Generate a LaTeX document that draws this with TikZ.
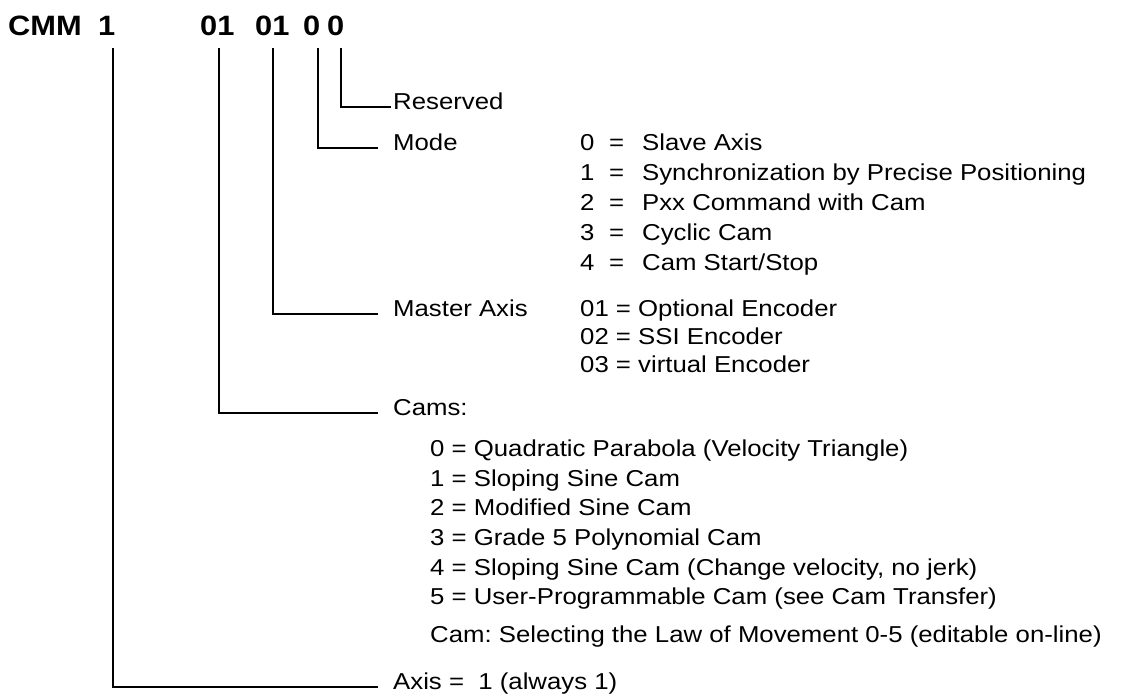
\documentclass[tikz,border=0pt]{standalone}
\usepackage{fontspec}
\setmainfont{Liberation Sans}
\newfontfamily\bodyface[FakeStretch=1.12]{Liberation Sans}
\newfontfamily\headface[FakeStretch=1.1]{Liberation Sans}
\frenchspacing
\begin{document}
\begin{tikzpicture}[x=1pt,y=-1pt,
  hdr/.style={anchor=base west, inner sep=0pt, font=\headface\bfseries\fontsize{28}{30}\selectfont},
  lbl/.style={anchor=mid west, inner ysep=0pt, inner xsep=15pt, font=\bodyface\fontsize{23}{28}\selectfont},
  item/.style={anchor=mid west, inner sep=0pt, font=\bodyface\fontsize{23}{28}\selectfont},
  link/.style={line width=1.8pt}]
\useasboundingbox (0,0) rectangle (1124,699);

% type code
\node[hdr] (hC) at (8,35) {CMM};
\node[hdr] (hA) at (98,35) {1};
\node[hdr] (hB) at (200,35) {01};
\node[hdr] (hM) at (255,35) {01};
\node[hdr] (hO) at (303,35) {0};
\node[hdr] (hR) at (327,35) {0};

% tops of the leader lines
\coordinate (tA) at (113,48);
\coordinate (tB) at (219,48);
\coordinate (tM) at (273,48);
\coordinate (tO) at (318,48);
\coordinate (tR) at (341,48);

% field names
\node[lbl, inner xsep=2pt] (reserved) at (391,107) {Reserved};
\node[lbl] (mode)   at (378,148) {Mode};
\node[lbl] (master) at (378,314) {Master Axis};
\node[lbl] (cams)   at (378,413) {Cams:};
\node[lbl] (axis)   at (378,687) {Axis =\ \ 1 (always 1)};

% leaders
\draw[link] (tR) |- (reserved.mid west);
\draw[link] (tO) |- (mode.mid west);
\draw[link] (tM) |- (master.mid west);
\draw[link] (tB) |- (cams.mid west);
\draw[link] (tA) |- (axis.mid west);

% mode values
\node[item] (m0) at (580,148) {\makebox[29pt][l]{0}\makebox[33pt][l]{=}Slave Axis};
\node[item] (m1) at (580,178) {\makebox[29pt][l]{1}\makebox[33pt][l]{=}Synchronization by Precise Positioning};
\node[item] (m2) at (580,208) {\makebox[29pt][l]{2}\makebox[33pt][l]{=}Pxx Command with Cam};
\node[item] (m3) at (580,238) {\makebox[29pt][l]{3}\makebox[33pt][l]{=}Cyclic Cam};
\node[item] (m4) at (580,268) {\makebox[29pt][l]{4}\makebox[33pt][l]{=}Cam Start/Stop};

% master axis values
\node[item] (e1) at (580,314) {01 = Optional Encoder};
\node[item] (e2) at (580,342) {02 = SSI Encoder};
\node[item] (e3) at (580,370) {03 = virtual Encoder};

% cam laws
\node[item] (c0) at (430,454) {0 = Quadratic Parabola (Velocity Triangle)};
\node[item] (c1) at (430,484) {1 = Sloping Sine Cam};
\node[item] (c2) at (430,513) {2 = Modified Sine Cam};
\node[item] (c3) at (430,543) {3 = Grade 5 Polynomial Cam};
\node[item] (c4) at (430,573) {4 = Sloping Sine Cam (Change velocity, no jerk)};
\node[item] (c5) at (430,602) {5 = User-Programmable Cam (see Cam Transfer)};
\node[item] (cn) at (430,640) {Cam: Selecting the Law of Movement 0-5 (editable on-line)};
\end{tikzpicture}
\end{document}
